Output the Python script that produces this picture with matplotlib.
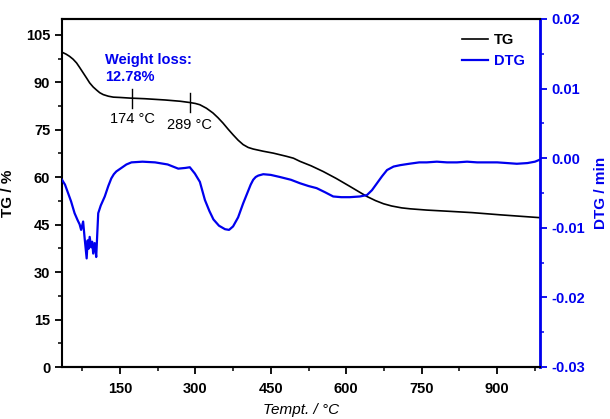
import matplotlib
matplotlib.use("Agg")
import matplotlib.pyplot as plt
from matplotlib.ticker import MultipleLocator, FormatStrFormatter

plt.rcParams['font.family'] = ['Liberation Sans', 'DejaVu Sans']

BLUE = '#0000ee'

# Thermogravimetric curve: temperature (°C) vs. remaining mass (%)
tg_temp = [35, 43, 50, 57, 64, 70, 77, 84, 90, 97, 104, 110, 117, 127, 137, 150, 170, 200, 240, 270,
           289, 300, 309, 322, 335, 345, 355, 365, 375, 385, 395, 405, 415, 435, 455, 481, 495,
           508, 530, 554, 580, 607, 625, 641, 658, 674, 690, 710, 727, 760, 806, 850, 906, 950, 985]
tg_mass = [99.5, 98.9, 98.2, 97.3, 96.1, 94.7, 93.0, 91.3, 89.8, 88.5, 87.5, 86.7, 86.1, 85.6, 85.3,
           85.2, 85.0, 84.8, 84.4, 84.0,
           83.6, 83.3, 82.9, 81.8, 80.3, 78.8, 77.1, 75.2, 73.4, 71.7, 70.3, 69.4, 68.9, 68.2, 67.6,
           66.6, 66.0,
           65.0, 63.6, 61.8, 59.6, 57.1, 55.4, 53.9, 52.6, 51.6, 50.9, 50.3, 50.0, 49.6, 49.2, 48.8,
           48.1, 47.6, 47.2]

# Derivative curve: temperature (°C) vs. DTG (1/min)
dtg_temp = [35, 41, 47, 53, 60, 66, 70, 73, 77, 80, 84, 86, 88, 90, 93, 95, 97, 100, 103,
            105, 107, 112, 120, 127, 133, 138, 143, 153, 163, 173, 195, 220, 245, 266, 280, 289,
            299, 309, 319, 328, 336, 347, 359, 367, 375, 385, 395, 405, 410, 415, 420, 425, 435, 450,
            468, 490, 508, 525, 541, 558, 574, 590, 607, 627, 641, 651, 661, 671, 681, 694,
            707, 725, 745, 760, 780, 800, 820, 840, 860, 873, 900, 920, 939, 960, 975, 985]
dtg_val = [-0.0031, -0.0038, -0.0050, -0.0062, -0.0079, -0.0089, -0.0095, -0.0103, -0.0091, -0.0115,
           -0.0144, -0.0118, -0.0130, -0.0113, -0.0128, -0.0120, -0.0137, -0.0122, -0.0142,
           -0.0110, -0.0079, -0.0068, -0.0055, -0.0040, -0.0029, -0.0023, -0.0019, -0.0014, -0.0009,
           -0.0006, -0.0005, -0.0006, -0.0009, -0.0015, -0.0014, -0.0013,
           -0.0022, -0.0034, -0.0060, -0.0076, -0.0088, -0.0097, -0.0102, -0.0103, -0.0098, -0.0085,
           -0.0065, -0.0047, -0.0038, -0.0031, -0.0027, -0.0025, -0.0023, -0.0024,
           -0.0027, -0.0031, -0.0036, -0.0040, -0.0043, -0.0049, -0.0055, -0.0056, -0.0056, -0.0055,
           -0.0053, -0.0046, -0.0036, -0.0026, -0.0017, -0.0012,
           -0.0010, -0.0008, -0.0006, -0.0006, -0.0005, -0.0006, -0.0006, -0.0005, -0.0006, -0.0006,
           -0.0006, -0.0007, -0.0008, -0.0007, -0.0005, -0.0002]

x_ticks = [150, 300, 450, 600, 750, 900]
tg_ticks = [0, 15, 30, 45, 60, 75, 90, 105]
dtg_ticks = [-0.03, -0.02, -0.01, 0.00, 0.01, 0.02]

# Onset/end temperatures marked on the TG curve
marks = [174, 289]
mark_tg = [85.0, 83.6]

fig = plt.figure(figsize=(6.10, 4.19), dpi=100)
ax = fig.add_axes([62/610, 1-367/419, (540-62)/610, (367-19)/419])
ax2 = ax.twinx()

l1, = ax.plot(tg_temp, tg_mass, color='black', lw=1.2, label='TG')
l2, = ax2.plot(dtg_temp, dtg_val, color=BLUE, lw=1.6, label='DTG')

ax.set_xlim(35, 985)
ax.set_ylim(0, 110)
ax2.set_ylim(-0.03, 0.02)

ax.set_xticks(x_ticks)
ax.xaxis.set_minor_locator(MultipleLocator(75))
ax.set_yticks(tg_ticks)
ax.yaxis.set_minor_locator(MultipleLocator(7.5))
ax2.set_yticks(dtg_ticks)
ax2.yaxis.set_minor_locator(MultipleLocator(0.005))
ax2.yaxis.set_major_formatter(FormatStrFormatter('%.2f'))

for a in (ax, ax2):
    a.tick_params(which='major', direction='out', length=5, width=1.3, labelsize=10.5)
    a.tick_params(which='minor', direction='out', length=3, width=1.1)
    for lab in a.get_xticklabels() + a.get_yticklabels():
        lab.set_fontweight('bold')
ax.tick_params(axis='x', which='both', top=False, pad=6)
ax2.tick_params(axis='y', which='both', colors=BLUE)
for lab in ax2.get_yticklabels():
    lab.set_color(BLUE)

for s in ('left', 'bottom', 'top'):
    ax.spines[s].set_linewidth(1.5)
ax2.spines['right'].set_color(BLUE)
ax2.spines['right'].set_linewidth(2.0)
ax2.spines['left'].set_visible(False)
ax2.spines['top'].set_linewidth(1.5)
ax2.spines['bottom'].set_linewidth(1.5)

ax.set_ylabel('TG / %', fontsize=11, fontweight='bold', labelpad=8)
ax2.set_ylabel('DTG / min', fontsize=11, fontweight='bold', color=BLUE, labelpad=6)
ax.set_xlabel('Tempt. / °C', fontsize=11, style='italic', labelpad=5)

# Markers and labels on the TG curve
for t, m in zip(marks, mark_tg):
    ax.plot([t, t], [m - 3, m + 3], color='black', lw=1.0)
ax.text(marks[0], mark_tg[0] - 6.5, '174 °C', fontsize=10.5, ha='center', va='center')
ax.text(marks[1], mark_tg[1] - 7.2, '289 °C', fontsize=10.5, ha='center', va='center')
ax.text(120, 94.3, 'Weight loss:\n12.78%', fontsize=10.5, fontweight='bold', color=BLUE,
        ha='left', va='center', linespacing=1.3)

leg = ax.legend(handles=[l1, l2], loc='upper right', frameon=False, fontsize=10.5,
                handlelength=1.8, handletextpad=0.4, borderaxespad=0.3, labelspacing=0.5,
                bbox_to_anchor=(0.99, 0.99))
for txt, c in zip(leg.get_texts(), ['black', BLUE]):
    txt.set_color(c)
    txt.set_fontweight('bold')

fig.savefig('out.png', dpi=100)
